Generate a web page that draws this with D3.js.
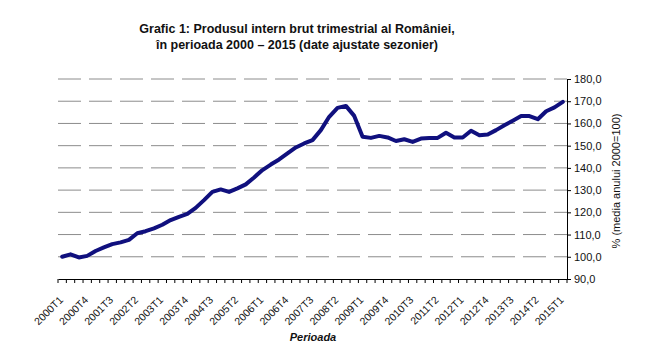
<!DOCTYPE html>
<html>
<head>
<meta charset="utf-8">
<script src="https://cdn.jsdelivr.net/npm/d3@7"></script>
<style>
  html, body { margin: 0; padding: 0; background: #fff; }
  svg { display: block; font-family: "Liberation Sans", Arial, sans-serif; }
</style>
</head>
<body>
<svg id="chart" width="660" height="346"></svg>
<script>
// Quarterly GDP of Romania, seasonally adjusted (average of year 2000 = 100)
const years = d3.range(2000, 2016);
const quarters = years.flatMap(y => [1, 2, 3, 4].map(q => `${y}T${q}`)).slice(0, 61);

const gdpIndex = [
  100.0, 101.1, 99.7, 100.4, 102.6, 104.2, 105.7, 106.5,
  107.6, 110.6, 111.5, 112.8, 114.4, 116.5, 118.0, 119.3,
  122.0, 125.5, 129.2, 130.3, 129.2, 130.8, 132.6, 135.7,
  139.0, 141.5, 143.8, 146.5, 149.2, 151.0, 152.5, 157.0,
  163.0, 167.0, 167.9, 163.4, 154.0, 153.5, 154.4, 153.7,
  152.1, 152.9, 151.7, 153.2, 153.5, 153.5, 155.8, 153.7,
  153.7, 156.7, 154.7, 155.0, 157.0, 159.2, 161.2, 163.3,
  163.3, 161.9, 165.5, 167.2, 169.7
];

// Every third quarter is labelled on the category axis
const labelledQuarters = quarters.filter((d, i) => i % 3 === 0);
const yTicks = d3.range(90, 181, 10);

const titleLines = [
  "Grafic 1: Produsul intern brut trimestrial al României,",
  "în perioada 2000 – 2015 (date ajustate sezonier)"
];
const xTitle = "Perioada";
const yTitle = "% (media anului 2000=100)";

const svg = d3.select("#chart");
const plot = { left: 58, right: 567, top: 79, bottom: 279 };

const x = d3.scaleBand().domain(quarters).range([plot.left, plot.right]).padding(0);
const y = d3.scaleLinear().domain([90, 180]).range([plot.bottom, plot.top]);
const cx = d => x(d) + x.bandwidth() / 2;

// Title
svg.append("g").selectAll("text").data(titleLines).join("text")
  .attr("x", 297).attr("y", (d, i) => 33 + i * 16)
  .attr("text-anchor", "middle")
  .attr("font-size", 12.5).attr("font-weight", "bold").attr("fill", "#111")
  .text(d => d);

// Dashed horizontal gridlines
svg.append("g").selectAll("line").data(yTicks.filter(v => v > 90)).join("line")
  .attr("x1", plot.left).attr("x2", plot.right)
  .attr("y1", d => y(d)).attr("y2", d => y(d))
  .attr("stroke", "#8c8c8c").attr("stroke-width", 1)
  .attr("stroke-dasharray", "23,8");

// Right value axis
const fmt = v => d3.format(".1f")(v).replace(".", ",");
const yAxis = svg.append("g")
  .attr("transform", `translate(${plot.right},0)`)
  .call(d3.axisRight(y).tickValues(yTicks).tickFormat(fmt).tickSize(4).tickPadding(3));
yAxis.select(".domain").attr("stroke", "#000");
yAxis.selectAll(".tick line").attr("stroke", "#000");
yAxis.selectAll(".tick text").attr("font-size", 11).attr("fill", "#111")
  .attr("font-family", "'Liberation Sans', Arial, sans-serif");

// Category axis: line, boundary ticks, rotated labels
const xAxis = svg.append("g")
  .attr("transform", `translate(0,${plot.bottom})`)
  .call(d3.axisBottom(x).tickValues(labelledQuarters).tickSize(0).tickPadding(0));
xAxis.select(".domain").attr("stroke", "#000");
xAxis.selectAll(".tick text")
  .attr("font-size", 10.5).attr("fill", "#111")
  .attr("font-family", "'Liberation Sans', Arial, sans-serif")
  .attr("text-anchor", "end")
  .attr("dy", "0.35em")
  .attr("transform", "translate(-1,19) rotate(-45)")
  .attr("y", 0);

svg.append("g").selectAll("line")
  .data(quarters.map(q => x(q)).concat([x(quarters[quarters.length - 1]) + x.bandwidth()]))
  .join("line")
  .attr("x1", d => d).attr("x2", d => d)
  .attr("y1", plot.bottom).attr("y2", plot.bottom + 4)
  .attr("stroke", "#000");

// GDP line
const line = d3.line().x((d, i) => cx(quarters[i])).y(d => y(d));
svg.append("path")
  .datum(gdpIndex)
  .attr("d", line)
  .attr("fill", "none")
  .attr("stroke", "#10107e")
  .attr("stroke-width", 4)
  .attr("stroke-linejoin", "round")
  .attr("stroke-linecap", "round");

// Axis titles
svg.append("text")
  .attr("x", 313).attr("y", 341)
  .attr("text-anchor", "middle")
  .attr("font-size", 11).attr("font-weight", "bold").attr("font-style", "italic")
  .attr("fill", "#111")
  .text(xTitle);

svg.append("text")
  .attr("transform", "translate(620,181) rotate(-90)")
  .attr("text-anchor", "middle")
  .attr("font-size", 11).attr("fill", "#111")
  .text(yTitle);
</script>
</body>
</html>
